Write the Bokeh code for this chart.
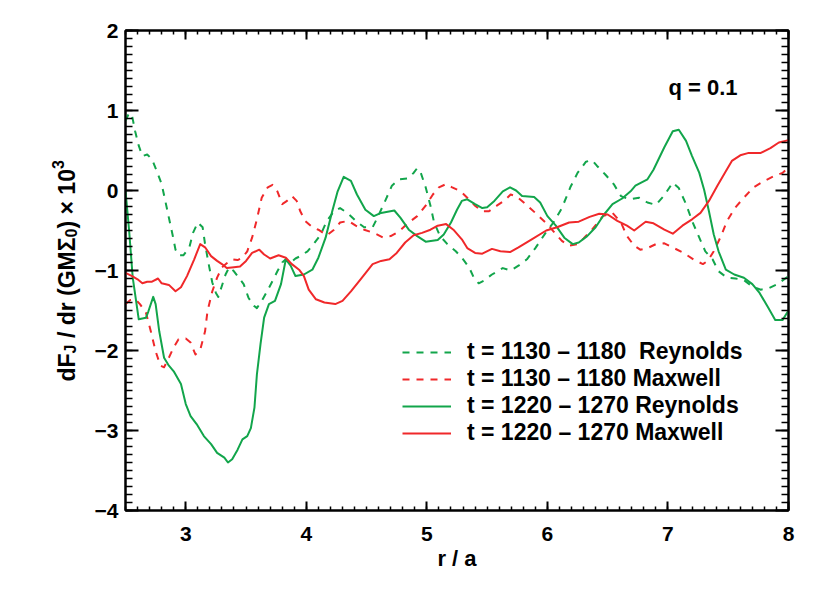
from math import pi
from bokeh.plotting import figure
from bokeh.layouts import row
from bokeh.core.properties import value
from bokeh.models import (Range1d, LinearAxis, SingleIntervalTicker, CustomJSTickFormatter,
                          Legend, LegendItem, Label, ColumnDataSource)
from bokeh.embed import file_html
from bokeh.resources import INLINE

# ---------------- data ----------------
# t = 1130 - 1180 Reynolds (green dashed)
reynolds_early = [
    (2.50, 0.87), (2.53, 0.97), (2.555, 0.93), (2.58, 0.74), (2.61, 0.56), (2.64, 0.43),
    (2.68, 0.45), (2.72, 0.39), (2.76, 0.24), (2.80, 0.08), (2.83, -0.13), (2.86, -0.34),
    (2.89, -0.55), (2.915, -0.74), (2.94, -0.81), (2.98, -0.81), (3.03, -0.71), (3.06, -0.53),
    (3.10, -0.40), (3.14, -0.46), (3.16, -0.67), (3.19, -0.92), (3.22, -1.15), (3.25, -1.28),
    (3.27, -1.33), (3.30, -1.19), (3.33, -1.05), (3.36, -0.96), (3.40, -1.01), (3.44, -1.09),
    (3.48, -1.17), (3.52, -1.34), (3.565, -1.44), (3.59, -1.47), (3.63, -1.38), (3.675, -1.26),
    (3.72, -1.13), (3.76, -1.01), (3.80, -0.90), (3.83, -0.86), (3.87, -0.90), (3.91, -0.85),
    (3.95, -0.82), (4.01, -0.76), (4.06, -0.67), (4.12, -0.55), (4.17, -0.38), (4.23, -0.26),
    (4.28, -0.22), (4.34, -0.28), (4.41, -0.38), (4.48, -0.46), (4.55, -0.46), (4.59, -0.34),
    (4.66, -0.11), (4.71, 0.06), (4.77, 0.14), (4.84, 0.15), (4.89, 0.22), (4.92, 0.28),
    (4.95, 0.22), (4.99, 0.04), (5.03, -0.19), (5.06, -0.40), (5.11, -0.57), (5.17, -0.67),
    (5.24, -0.76), (5.29, -0.84), (5.35, -0.96), (5.39, -1.09), (5.43, -1.16), (5.47, -1.13),
    (5.54, -1.05), (5.63, -0.97), (5.695, -1.00), (5.76, -0.94), (5.83, -0.86), (5.90, -0.72),
    (5.985, -0.53), (6.05, -0.40), (6.12, -0.22), (6.19, 0.04), (6.25, 0.22), (6.32, 0.36),
    (6.37, 0.38), (6.41, 0.31), (6.48, 0.20), (6.55, 0.08), (6.61, -0.07), (6.68, -0.11),
    (6.76, -0.09), (6.83, -0.15), (6.90, -0.18), (6.97, -0.06), (7.04, 0.10), (7.09, 0.03),
    (7.15, -0.17), (7.20, -0.38), (7.26, -0.59), (7.31, -0.76), (7.37, -0.86), (7.42, -1.01),
    (7.49, -1.09), (7.56, -1.10), (7.63, -1.12), (7.70, -1.20), (7.77, -1.24), (7.84, -1.22),
    (7.91, -1.17), (8.00, -1.07),
]

# t = 1130 - 1180 Maxwell (red dashed)
maxwell_early = [
    (2.50, -1.42), (2.54, -1.37), (2.58, -1.36), (2.62, -1.42), (2.67, -1.53), (2.71, -1.76),
    (2.75, -2.01), (2.79, -2.19), (2.82, -2.21), (2.86, -2.09), (2.90, -1.96), (2.94, -1.86),
    (3.00, -1.85), (3.04, -1.90), (3.08, -2.05), (3.12, -1.99), (3.16, -1.76), (3.18, -1.51),
    (3.22, -1.26), (3.26, -1.09), (3.30, -0.96), (3.34, -0.91), (3.385, -0.86), (3.43, -0.87),
    (3.47, -0.84), (3.51, -0.76), (3.55, -0.59), (3.59, -0.36), (3.63, -0.09), (3.68, 0.04),
    (3.72, 0.07), (3.76, -0.01), (3.80, -0.17), (3.84, -0.13), (3.88, -0.07), (3.92, -0.13),
    (3.95, -0.26), (3.99, -0.38), (4.05, -0.46), (4.10, -0.49), (4.17, -0.56), (4.23, -0.49),
    (4.28, -0.40), (4.35, -0.38), (4.41, -0.44), (4.48, -0.49), (4.56, -0.53), (4.64, -0.59),
    (4.70, -0.57), (4.77, -0.51), (4.85, -0.40), (4.92, -0.32), (4.99, -0.19), (5.05, -0.05),
    (5.10, 0.04), (5.16, 0.08), (5.21, 0.04), (5.28, -0.01), (5.335, -0.09), (5.40, -0.19),
    (5.46, -0.26), (5.515, -0.26), (5.58, -0.19), (5.64, -0.13), (5.695, -0.05), (5.74, -0.07),
    (5.82, -0.17), (5.90, -0.28), (5.985, -0.40), (6.05, -0.51), (6.12, -0.63), (6.18, -0.69),
    (6.25, -0.67), (6.30, -0.60), (6.37, -0.49), (6.46, -0.32), (6.54, -0.28), (6.61, -0.40),
    (6.66, -0.57), (6.72, -0.69), (6.77, -0.74), (6.83, -0.72), (6.90, -0.67), (6.97, -0.66),
    (7.05, -0.72), (7.13, -0.78), (7.22, -0.87), (7.29, -0.92), (7.33, -0.88), (7.38, -0.76),
    (7.44, -0.57), (7.49, -0.38), (7.56, -0.21), (7.63, -0.09), (7.71, 0.04), (7.80, 0.12),
    (7.88, 0.18), (7.95, 0.22), (8.00, 0.29),
]

# t = 1220 - 1270 Reynolds (green solid)
reynolds_late = [
    (2.50, 0.00), (2.53, -0.50), (2.56, -1.09), (2.61, -1.61), (2.67, -1.59), (2.69, -1.51),
    (2.73, -1.33), (2.75, -1.42), (2.78, -1.76), (2.82, -2.09), (2.86, -2.19), (2.90, -2.26),
    (2.96, -2.42), (3.00, -2.67), (3.04, -2.82), (3.09, -2.92), (3.15, -3.07), (3.21, -3.17),
    (3.26, -3.28), (3.32, -3.34), (3.35, -3.40), (3.385, -3.36), (3.43, -3.24), (3.47, -3.11),
    (3.51, -3.07), (3.54, -2.97), (3.57, -2.71), (3.59, -2.30), (3.62, -1.92), (3.65, -1.59),
    (3.69, -1.42), (3.74, -1.38), (3.79, -1.17), (3.83, -0.86), (3.87, -0.94), (3.91, -1.07),
    (3.98, -1.05), (4.05, -0.99), (4.10, -0.84), (4.16, -0.59), (4.215, -0.26), (4.26, -0.01),
    (4.31, 0.17), (4.37, 0.12), (4.42, -0.05), (4.49, -0.24), (4.56, -0.32), (4.62, -0.28),
    (4.73, -0.25), (4.78, -0.34), (4.85, -0.49), (4.92, -0.57), (4.99, -0.64), (5.09, -0.62),
    (5.14, -0.55), (5.20, -0.40), (5.25, -0.24), (5.29, -0.13), (5.335, -0.11), (5.40, -0.17),
    (5.46, -0.22), (5.50, -0.21), (5.56, -0.13), (5.63, -0.01), (5.69, 0.04), (5.74, 0.00),
    (5.79, -0.07), (5.89, -0.08), (5.94, -0.15), (6.00, -0.32), (6.07, -0.44), (6.14, -0.59),
    (6.21, -0.67), (6.26, -0.65), (6.33, -0.57), (6.40, -0.46), (6.47, -0.30), (6.54, -0.17),
    (6.62, -0.10), (6.69, -0.01), (6.73, 0.06), (6.83, 0.14), (6.88, 0.26), (6.97, 0.54),
    (7.04, 0.74), (7.09, 0.76), (7.15, 0.62), (7.20, 0.43), (7.26, 0.22), (7.30, 0.01),
    (7.34, -0.26), (7.38, -0.55), (7.42, -0.76), (7.48, -0.99), (7.55, -1.05), (7.63, -1.09),
    (7.70, -1.17), (7.76, -1.28), (7.83, -1.46), (7.89, -1.62), (7.95, -1.62), (8.00, -1.50),
]

# t = 1220 - 1270 Maxwell (red solid)
maxwell_late = [
    (2.50, -1.03), (2.555, -1.07), (2.60, -1.11), (2.64, -1.16), (2.68, -1.14), (2.72, -1.14),
    (2.77, -1.10), (2.80, -1.16), (2.86, -1.18), (2.915, -1.26), (2.96, -1.21), (3.01, -1.07),
    (3.07, -0.86), (3.12, -0.67), (3.16, -0.71), (3.21, -0.82), (3.26, -0.88), (3.30, -0.92),
    (3.34, -0.97), (3.40, -0.96), (3.45, -0.95), (3.50, -0.88), (3.55, -0.78), (3.61, -0.74),
    (3.65, -0.80), (3.70, -0.85), (3.77, -0.81), (3.83, -0.84), (3.88, -0.92), (3.94, -0.99),
    (3.98, -1.07), (4.02, -1.24), (4.08, -1.36), (4.15, -1.40), (4.24, -1.42), (4.30, -1.38),
    (4.37, -1.26), (4.45, -1.11), (4.55, -0.92), (4.62, -0.88), (4.69, -0.86), (4.75, -0.78),
    (4.82, -0.65), (4.89, -0.56), (4.96, -0.53), (5.03, -0.49), (5.09, -0.44), (5.16, -0.42),
    (5.22, -0.49), (5.29, -0.61), (5.335, -0.72), (5.40, -0.78), (5.46, -0.79), (5.54, -0.73),
    (5.61, -0.76), (5.69, -0.77), (5.76, -0.71), (5.87, -0.61), (5.99, -0.50), (6.08, -0.46),
    (6.18, -0.40), (6.26, -0.39), (6.35, -0.33), (6.43, -0.29), (6.50, -0.30), (6.58, -0.38),
    (6.66, -0.44), (6.72, -0.50), (6.815, -0.39), (6.88, -0.41), (6.97, -0.49), (7.04, -0.54),
    (7.12, -0.44), (7.20, -0.36), (7.27, -0.28), (7.34, -0.13), (7.41, 0.06), (7.48, 0.24),
    (7.53, 0.37), (7.60, 0.44), (7.67, 0.47), (7.77, 0.47), (7.85, 0.53), (7.92, 0.60),
    (8.00, 0.63),
]

series_labels = [
    "t = 1130 \u2013 1180  Reynolds",
    "t = 1130 \u2013 1180 Maxwell",
    "t = 1220 \u2013 1270 Reynolds",
    "t = 1220 \u2013 1270 Maxwell",
]
x_title = "r / a"
annotation_text = "q = 0.1"
# y-axis title pieces: text, font size, baseline shift (sub/sup)
y_title_parts = ["dF", "J", "\u00a0/ dr (GM\u03a3", "0", ") \u00d7 10", "3"]
y_title_sizes = [23, 16, 23, 16, 23, 16]
y_title_shift = [0, 4, 0, 4, 0, -9]

# ---------------- styling ----------------
GREEN = "#12a54b"
RED = "#f0282a"
FONT = "Liberation Sans"
H = 590
LW = 85  # width of the side strip holding the y title

p = figure(frame_width=663, frame_height=480,
           min_border_left=125 - LW, min_border_right=34, min_border_top=30,
           min_border_bottom=H - 30 - 480,
           x_range=Range1d(2.5, 8), y_range=Range1d(-4, 2),
           output_backend="svg", toolbar_location=None)
p.title.visible = False
p.xgrid.visible = False
p.ygrid.visible = False
p.outline_line_color = "black"
p.outline_line_width = 2
p.background_fill_color = "white"
p.border_fill_color = "white"

minus_fmt = "return (tick < 0 ? '\u2212' : '') + Math.abs(tick).toFixed(0);"


def style_axis(ax, major_in, minor_in, labels):
    ax.ticker = SingleIntervalTicker(interval=1, num_minor_ticks=10)
    ax.major_tick_in = major_in
    ax.major_tick_out = 0
    ax.minor_tick_in = minor_in
    ax.minor_tick_out = 0
    ax.axis_line_width = 2
    ax.axis_line_color = "black"
    ax.major_tick_line_width = 2
    ax.major_tick_line_color = "black"
    ax.minor_tick_line_width = 1.5
    ax.minor_tick_line_color = "black"
    if labels:
        ax.formatter = CustomJSTickFormatter(code=minus_fmt)
        ax.major_label_text_font = FONT
        ax.major_label_text_font_style = "bold"
        ax.major_label_text_font_size = "21px"
        ax.major_label_text_color = "black"
    else:
        ax.formatter = CustomJSTickFormatter(code="return '';")
        ax.major_label_text_font_size = "1px"
        ax.major_label_standoff = 0


xa = p.xaxis[0]
ya = p.yaxis[0]
style_axis(xa, 9, 4, True)
style_axis(ya, 13, 7, True)
xa.major_label_standoff = 16
ya.major_label_standoff = 7
xa.axis_label = x_title
xa.axis_label_text_font = FONT
xa.axis_label_text_font_style = "bold"
xa.axis_label_text_font_size = "22px"
xa.axis_label_text_color = "black"
xa.axis_label_standoff = 2

top = LinearAxis()
right = LinearAxis()
style_axis(top, 9, 4, False)
style_axis(right, 13, 7, False)
p.add_layout(top, "above")
p.add_layout(right, "right")


def draw(data, color, dash):
    src = ColumnDataSource(dict(x=[d[0] for d in data], y=[d[1] for d in data]))
    return p.line("x", "y", source=src, line_color=color, line_width=2,
                  line_dash=dash, line_join="round")


r1 = draw(reynolds_early, GREEN, "7 7")
r2 = draw(maxwell_early, RED, "7 7")
r3 = draw(reynolds_late, GREEN, "solid")
r4 = draw(maxwell_late, RED, "solid")

legend = Legend(items=[LegendItem(label=series_labels[i], renderers=[r])
                       for i, r in enumerate([r1, r2, r3, r4])],
                location=(277, 64), glyph_width=49, glyph_height=24, label_height=24,
                spacing=0, padding=0, margin=0, label_standoff=16,
                label_text_font=FONT, label_text_font_style="bold",
                label_text_font_size="23px", label_text_color="black",
                border_line_alpha=0, background_fill_alpha=0)
p.add_layout(legend)

p.add_layout(Label(x=543, y=411, x_units="screen", y_units="screen", text=annotation_text,
                   text_font=FONT, text_font_style="bold", text_font_size="22px",
                   text_color="black"))

# ---------------- side strip with the rotated y title ----------------
side = figure(frame_width=LW, frame_height=H, min_border=0,
              x_range=Range1d(0, LW), y_range=Range1d(0, H),
              x_axis_location=None, y_axis_location=None,
              output_backend="svg", toolbar_location=None)
side.title.visible = False
side.xgrid.visible = False
side.ygrid.visible = False
side.outline_line_color = None
side.background_fill_color = "white"
side.border_fill_color = "white"

# lay the pieces end to end along the rotated baseline (Helvetica-bold advance widths)
adv = {"dF": 1.222, "J": 0.556, "\u00a0/ dr (GM\u03a3": 4.656, "0": 0.556,
       ") \u00d7 10": 2.585, "3": 0.556}
base_x = 66
pos = H - 378 + 27
xs, ys = [], []
for txt, size, shift in zip(y_title_parts, y_title_sizes, y_title_shift):
    xs.append(base_x + shift)
    ys.append(pos)
    pos += adv[txt] * size
src_t = ColumnDataSource(dict(x=xs, y=ys, text=y_title_parts,
                              size=[f"{s}px" for s in y_title_sizes]))
side.text("x", "y", text="text", source=src_t, angle=pi / 2,
          text_font=value(FONT), text_font_style="bold", text_font_size="size",
          text_align="left", text_baseline="alphabetic", text_color="black")

layout = row(side, p, spacing=0)
open("out.html", "w").write(file_html(layout, INLINE))
